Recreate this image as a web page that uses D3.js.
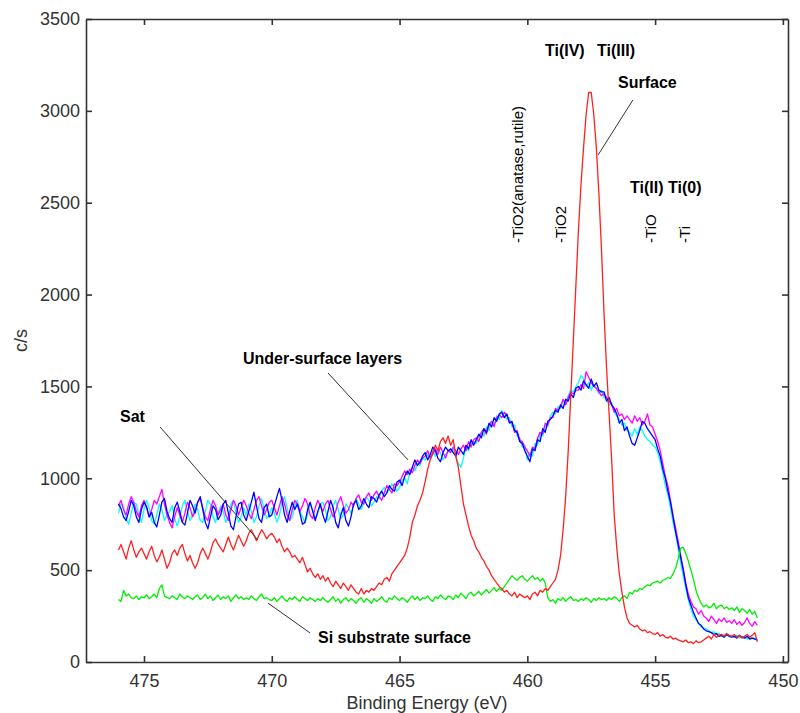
<!DOCTYPE html>
<html>
<head>
<meta charset="utf-8">
<script src="https://cdn.jsdelivr.net/npm/d3@7/dist/d3.min.js"></script>
<style>
  html, body { margin: 0; padding: 0; background: #fff; }
  svg { display: block; font-family: "Liberation Sans", Arial, sans-serif; }
  .tick text { fill: #333; font-size: 18px; }
  .axis path, .axis line { stroke: #333; stroke-width: 1.6; }
  .trace { fill: none; stroke-width: 1.3; stroke-linejoin: round; }
  .note { font-weight: bold; font-size: 16px; fill: #000; }
  .ref { font-size: 15px; fill: #000; }
  .lead { stroke: #333; stroke-width: 1; }
</style>
</head>
<body>
<svg id="chart" width="800" height="713"></svg>
<script>
// Ti 2p XPS spectra, 0.1 eV sampling from 476.0 eV down to 451.0 eV
const eStart = 476.0, eStep = 0.1, nPts = 251;
const energies = d3.range(nPts).map(i => +(eStart - i * eStep).toFixed(1));

// Under-surface layer spectra (three acquisitions)
const blueCounts = [
  860, 835, 790, 770, 820, 880, 850, 790, 760, 830,
  870, 845, 790, 815, 760, 735, 800, 870, 890, 820,
  780, 760, 840, 870, 820, 760, 745, 810, 880, 850,
  810, 870, 900, 830, 760, 725, 790, 850, 830, 775,
  800, 860, 880, 810, 740, 720, 790, 860, 870, 800,
  770, 820, 870, 925, 850, 780, 760, 840, 860, 790,
  800, 850, 900, 945, 880, 800, 760, 820, 870, 830,
  860, 810, 750, 760, 830, 870, 820, 770, 820, 860,
  800, 760, 820, 880, 840, 760, 730, 800, 840, 770,
  740, 790, 860, 880, 830, 850, 890, 860, 840, 900,
  890, 870, 910, 930, 900, 920, 960, 940, 930, 980,
  990, 960, 1010, 1040, 1020, 1060, 1100, 1070, 1090, 1120,
  1140, 1100, 1130, 1170, 1150, 1110, 1090, 1140, 1170, 1150,
  1160, 1140, 1120, 1170, 1150, 1130, 1180, 1160, 1210, 1180,
  1210, 1240, 1220, 1270, 1250, 1300, 1280, 1330, 1310, 1350,
  1360, 1330, 1350, 1300, 1310, 1260, 1250, 1200, 1190, 1150,
  1120, 1090, 1160, 1150, 1210, 1200, 1270, 1250, 1310, 1320,
  1340, 1370, 1360, 1400, 1380, 1430, 1420, 1460, 1440, 1490,
  1500, 1480, 1530, 1510, 1490, 1540, 1500, 1520, 1480, 1470,
  1470, 1420, 1440, 1400, 1380, 1350, 1300, 1320, 1260, 1280,
  1230, 1190, 1180, 1220, 1260, 1310, 1300, 1270, 1250, 1230,
  1210, 1160, 1120, 1050, 1000, 930, 870, 790, 710, 640,
  570, 500, 420, 350, 310, 270, 240, 210, 200, 180,
  170, 165, 160, 150, 155, 140, 145, 135, 150, 140,
  135, 140, 130, 145, 135, 130, 140, 125, 130, 125,
  120
];
const cyanCounts = [
  810, 860, 840, 780, 750, 810, 870, 860, 800, 760,
  830, 880, 840, 770, 750, 800, 860, 830, 770, 800,
  820, 850, 780, 740, 790, 850, 880, 820, 770, 800,
  860, 830, 770, 760, 820, 880, 860, 790, 760, 810,
  850, 820, 760, 790, 860, 880, 810, 760, 790, 840,
  800, 860, 820, 760, 790, 850, 890, 830, 780, 800,
  840, 810, 760, 800, 870, 900, 840, 770, 790, 850,
  880, 820, 790, 760, 800, 860, 830, 780, 810, 860,
  870, 830, 770, 790, 850, 880, 830, 780, 800, 860,
  840, 810, 850, 890, 860, 830, 870, 900, 880, 850,
  870, 900, 890, 930, 950, 920, 940, 970, 950, 930,
  950, 990, 1000, 970, 1030, 1060, 1040, 1080, 1070, 1110,
  1100, 1130, 1110, 1150, 1120, 1160, 1140, 1100, 1130, 1150,
  1150, 1160, 1120, 1080, 1060, 1110, 1170, 1150, 1190, 1200,
  1190, 1230, 1250, 1230, 1280, 1260, 1310, 1290, 1340, 1320,
  1370, 1340, 1320, 1330, 1280, 1290, 1230, 1220, 1170, 1180,
  1100, 1140, 1120, 1190, 1180, 1240, 1230, 1290, 1280, 1340,
  1360, 1350, 1390, 1380, 1420, 1410, 1450, 1480, 1470, 1500,
  1520, 1560, 1540, 1500, 1520, 1480, 1510, 1490, 1460, 1480,
  1440, 1430, 1400, 1410, 1360, 1340, 1320, 1290, 1300, 1260,
  1250, 1230, 1270, 1240, 1280, 1260, 1230, 1210, 1200, 1180,
  1170, 1140, 1090, 1030, 960, 910, 840, 760, 700, 620,
  540, 470, 400, 340, 290, 250, 230, 210, 190, 185,
  180, 170, 160, 165, 150, 155, 140, 150, 145, 140,
  140, 135, 145, 130, 140, 135, 125, 135, 130, 130,
  125
];
const magentaCounts = [
  850, 880, 830, 800, 860, 900, 870, 820, 790, 850,
  880, 840, 790, 830, 880, 860, 900, 940, 860, 800,
  760, 730, 790, 840, 800, 760, 810, 870, 840, 790,
  820, 870, 890, 840, 790, 770, 830, 880, 850, 800,
  830, 860, 800, 770, 830, 880, 850, 800, 840, 880,
  850, 810, 780, 830, 880, 900, 850, 800, 830, 870,
  880, 840, 800, 850, 900, 860, 800, 770, 830, 880,
  860, 820, 850, 890, 860, 800, 780, 840, 880, 850,
  820, 860, 880, 830, 790, 820, 870, 900, 850, 810,
  830, 870, 850, 890, 910, 870, 860, 900, 920, 880,
  910, 930, 900, 880, 920, 960, 940, 920, 970, 960,
  980, 1010, 1040, 1020, 1050, 1030, 1070, 1100, 1080, 1110,
  1120, 1150, 1110, 1130, 1160, 1130, 1170, 1140, 1110, 1150,
  1140, 1170, 1150, 1130, 1160, 1180, 1150, 1200, 1170, 1210,
  1220, 1200, 1250, 1270, 1240, 1290, 1310, 1280, 1330, 1345,
  1330, 1360, 1340, 1310, 1300, 1250, 1260, 1210, 1200, 1170,
  1150, 1120, 1170, 1160, 1220, 1250, 1240, 1300, 1290, 1330,
  1330, 1380, 1370, 1390, 1430, 1400, 1440, 1470, 1460, 1480,
  1480, 1510, 1490, 1580, 1550, 1520, 1500, 1490, 1470, 1450,
  1460, 1440, 1420, 1400, 1360, 1380, 1340, 1350, 1320, 1340,
  1320, 1300, 1340, 1310, 1330, 1290, 1310, 1350, 1290, 1280,
  1240, 1200, 1150, 1080, 1010, 960, 880, 800, 730, 660,
  580, 510, 430, 370, 330, 300, 290, 260, 280, 250,
  240, 220, 250, 230, 210, 235, 220, 240, 215, 225,
  210, 230, 205, 220, 200, 215, 240, 210, 195, 220,
  200
];
// Surface spectrum
const redCounts = [
  610, 640, 600, 560, 620, 660, 610, 570, 600, 620,
  590, 560, 600, 630, 580, 545, 570, 610, 560, 510,
  540, 590, 610, 580, 620, 640, 590, 550, 580, 540,
  510, 540, 590, 620, 590, 560, 600, 650, 670, 640,
  620, 600, 640, 680, 640, 610, 650, 690, 660, 630,
  660, 700, 720, 690, 660, 690, 720, 700, 670, 690,
  700, 680, 650, 670, 630, 600, 620, 600, 570, 580,
  560, 540, 570, 530, 490, 510, 480, 460, 480, 450,
  470, 440, 460, 430, 410, 440, 420, 400, 430, 410,
  390, 420, 400, 380, 370, 400, 370, 390, 380, 400,
  390, 410, 430, 420, 450, 460, 440, 480, 500, 520,
  540, 560, 580, 620, 680, 760, 800, 850, 880, 920,
  980, 1050, 1100, 1140, 1180, 1150, 1200, 1220, 1190, 1230,
  1180, 1210, 1120, 1060, 960, 860, 800, 740, 690, 660,
  620, 600, 570, 550, 520, 500, 470, 450, 430, 410,
  400, 380, 390, 370, 360, 380, 350, 370, 360, 350,
  360, 340, 370, 380, 360, 390, 380, 400, 390, 410,
  430, 450, 500, 580, 720, 900, 1150, 1450, 1750, 2050,
  2350, 2600, 2800, 2980, 3100, 3100, 2980, 2800, 2550, 2250,
  1900, 1600, 1350, 1100, 800, 620, 480, 380, 300, 240,
  210, 200, 190, 200, 180, 170, 175, 160, 165, 155,
  150, 160, 140, 150, 135, 130, 140, 125, 130, 120,
  115, 110, 120, 105, 110, 100, 115, 105, 110, 120,
  130, 140, 125, 150, 135, 145, 150, 140, 155, 145,
  140, 150, 135, 145, 130, 140, 150, 135, 145, 160,
  110
];
// Si substrate surface spectrum
const greenCounts = [
  340, 330, 390, 360, 370, 350, 345, 360, 340, 355,
  350, 365, 345, 355, 370, 350, 400, 420, 360, 350,
  345, 360, 350, 340, 370, 355, 345, 360, 350, 340,
  355, 365, 340, 350, 370, 345, 360, 335, 350, 365,
  340, 355, 345, 360, 330, 350, 365, 345, 355, 340,
  350, 340, 360, 345, 335, 355, 370, 345, 350, 340,
  335, 350, 330, 345, 360, 340, 330, 350, 340, 355,
  340, 330, 355, 345, 335, 350, 340, 330, 345, 335,
  350, 335, 325, 340, 355, 330, 345, 320, 340, 350,
  330, 345, 335, 320, 340, 350, 325, 345, 335, 320,
  345, 330, 340, 355, 335, 325, 350, 340, 360, 345,
  335, 350, 340, 325, 345, 360, 340, 355, 335, 350,
  345, 360, 340, 330, 355, 345, 365, 350, 340, 360,
  355, 340, 365, 350, 375, 360, 345, 370, 380, 360,
  370, 385, 365, 380, 395, 375, 390, 405, 385, 400,
  390, 410, 430, 450, 470, 455, 445, 460, 470, 450,
  440, 455, 470, 450, 460, 440, 455, 430, 350, 330,
  340, 320, 345, 335, 350, 330, 345, 355, 335, 340,
  330, 345, 335, 350, 340, 325, 345, 335, 350, 340,
  345, 335, 350, 340, 355, 345, 330, 350, 360, 345,
  380, 370, 390, 385, 400, 395, 410, 420, 415, 430,
  435, 440, 430, 445, 450, 460, 455, 480, 510, 560,
  620, 625, 590, 550, 500, 450, 390, 350, 320, 300,
  310, 295, 300, 320, 290, 305, 310, 290, 300, 285,
  295, 280, 300, 270, 290, 280, 265, 285, 260, 275,
  240
];

const xTicks = [475, 470, 465, 460, 455, 450];
const yTicks = [0, 500, 1000, 1500, 2000, 2500, 3000, 3500];

// Bold callouts: [text, energy of left edge, counts at text centre]
const callouts = [
  ["Ti(IV)", 459.31, 3331],
  ["Ti(III)", 457.27, 3331],
  ["Surface", 456.45, 3157],
  ["Ti(II) Ti(0)", 455.98, 2586],
  ["Under-surface layers", 471.13, 1655],
  ["Sat", 475.94, 1339],
  ["Si substrate surface", 468.19, 136]
];
// Leader lines: [e1, c1, e2, c2]
const leaders = [
  [455.87, 3059, 457.23, 2760],
  [467.80, 1573, 464.67, 1100],
  [474.37, 1279, 470.54, 664],
  [470.15, 321, 468.50, 158]
];
// Reference binding energies, vertical labels
const refLabels = [
  ["-TiO2(anatase,rutile)", 460.36],
  ["-TiO2", 458.68],
  ["-TiO", 455.16],
  ["-Ti", 453.83]
];
const refBase = 2281;

const svg = d3.select("#chart");
const plotL = 86, plotR = 788, plotT = 19, plotB = 662;

const x = d3.scaleLinear().domain([477.27, 449.8]).range([plotL, plotR]);
const y = d3.scaleLinear().domain([0, 3500]).range([plotB, plotT]);

// Frame with inward ticks on all four sides
svg.append("g").attr("class", "axis")
  .attr("transform", `translate(0,${plotB})`)
  .call(d3.axisBottom(x).tickValues(xTicks).tickSizeInner(-6).tickSizeOuter(0).tickPadding(12).tickFormat(d3.format("d")));
svg.append("g").attr("class", "axis")
  .attr("transform", `translate(0,${plotT})`)
  .call(d3.axisTop(x).tickValues(xTicks).tickSizeInner(-6).tickSizeOuter(0).tickFormat(""));
svg.append("g").attr("class", "axis")
  .attr("transform", `translate(${plotL},0)`)
  .call(d3.axisLeft(y).tickValues(yTicks).tickSizeInner(-6).tickSizeOuter(0).tickPadding(6).tickFormat(d3.format("d")));
svg.append("g").attr("class", "axis")
  .attr("transform", `translate(${plotR},0)`)
  .call(d3.axisRight(y).tickValues(yTicks).tickSizeInner(-6).tickSizeOuter(0).tickFormat(""));

// Axis titles
svg.append("text")
  .attr("x", 427).attr("y", 703).attr("dy", "0.35em")
  .attr("text-anchor", "middle").attr("fill", "#333").attr("font-size", 18)
  .text("Binding Energy (eV)");
svg.append("text")
  .attr("transform", `translate(21,${(plotT + plotB) / 2}) rotate(-90)`)
  .attr("dy", "0.35em")
  .attr("text-anchor", "middle").attr("fill", "#333").attr("font-size", 18)
  .text("c/s");

// Spectra
const line = d3.line().x((d, i) => x(energies[i])).y(d => y(d));
const series = [
  [cyanCounts, "#00ffff"],
  [magentaCounts, "#ff00ff"],
  [blueCounts, "#0000ff"],
  [greenCounts, "#00ee00"],
  [redCounts, "#ff2020"]
];
svg.append("g").selectAll("path").data(series).join("path")
  .attr("class", "trace")
  .attr("stroke", d => d[1])
  .attr("d", d => line(d[0]));

// Leader lines
svg.append("g").selectAll("line").data(leaders).join("line")
  .attr("class", "lead")
  .attr("x1", d => x(d[0])).attr("y1", d => y(d[1]))
  .attr("x2", d => x(d[2])).attr("y2", d => y(d[3]));

// Callout text
svg.append("g").selectAll("text").data(callouts).join("text")
  .attr("class", "note")
  .attr("x", d => x(d[1])).attr("y", d => y(d[2])).attr("dy", "0.35em")
  .text(d => d[0]);

// Vertical reference labels
svg.append("g").selectAll("text").data(refLabels).join("text")
  .attr("class", "ref")
  .attr("transform", d => `translate(${x(d[1])},${y(refBase)}) rotate(-90)`)
  .attr("dy", "0.35em")
  .text(d => d[0]);
</script>
</body>
</html>
